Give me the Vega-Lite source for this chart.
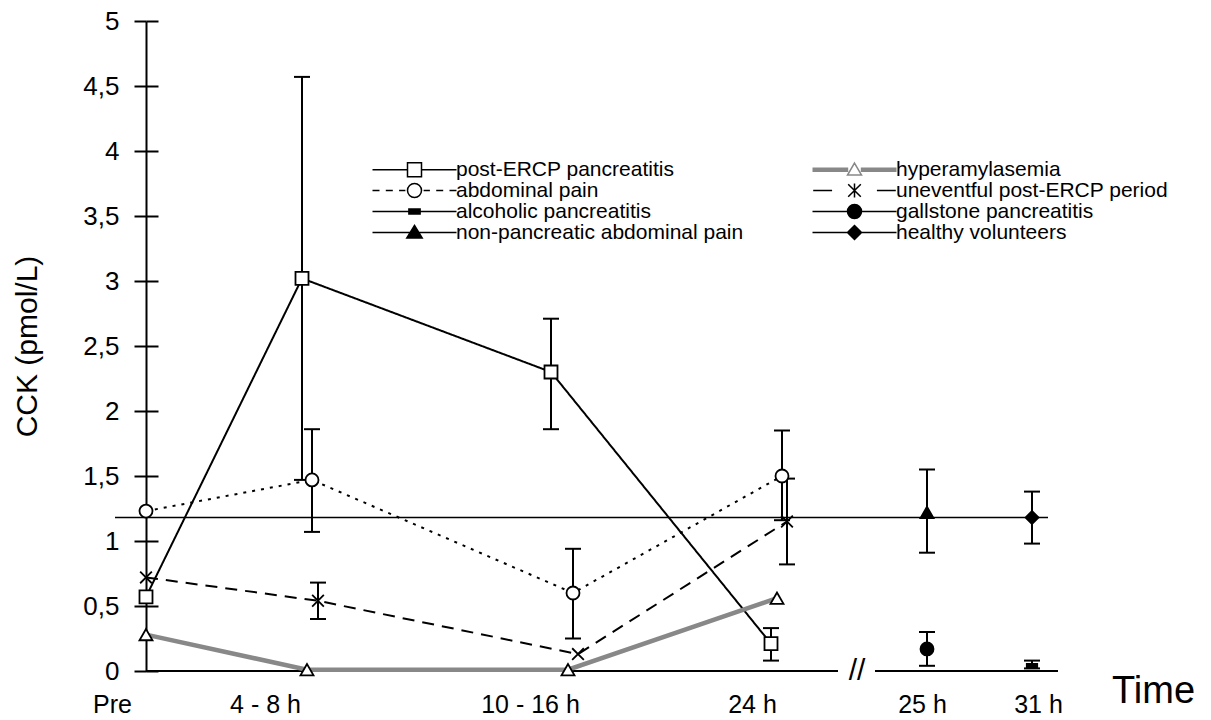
{
  "$schema": "https://vega.github.io/schema/vega-lite/v6.json",
  "width": 965,
  "height": 650,
  "autosize": {"type": "none"},
  "padding": {"left": 96, "top": 21, "right": 150, "bottom": 49},
  "background": "white",
  "config": {"view": {"stroke": null}, "font": "Liberation Sans", "axis": {"grid": false}},
  "datasets": {
    "obs": [
      {"g": "post-ERCP pancreatitis", "x": 0, "v": 0.57, "lo": null, "hi": null},
      {"g": "post-ERCP pancreatitis", "x": 1.56, "v": 3.02, "lo": 1.47, "hi": 4.57},
      {"g": "post-ERCP pancreatitis", "x": 4.05, "v": 2.3, "lo": 1.86, "hi": 2.71},
      {"g": "post-ERCP pancreatitis", "x": 6.25, "v": 0.21, "lo": 0.08, "hi": 0.33},
      {"g": "abdominal pain", "x": 0, "v": 1.23, "lo": null, "hi": null},
      {"g": "abdominal pain", "x": 1.66, "v": 1.47, "lo": 1.07, "hi": 1.86},
      {"g": "abdominal pain", "x": 4.27, "v": 0.6, "lo": 0.25, "hi": 0.94},
      {"g": "abdominal pain", "x": 6.36, "v": 1.5, "lo": 1.16, "hi": 1.85},
      {"g": "uneventful post-ERCP period", "x": 0, "v": 0.72, "lo": null, "hi": null},
      {"g": "uneventful post-ERCP period", "x": 1.72, "v": 0.54, "lo": 0.4, "hi": 0.68},
      {"g": "uneventful post-ERCP period", "x": 4.32, "v": 0.13, "lo": null, "hi": null},
      {"g": "uneventful post-ERCP period", "x": 6.41, "v": 1.15, "lo": 0.82, "hi": 1.48},
      {"g": "hyperamylasemia", "x": 0, "v": 0.28, "lo": null, "hi": null},
      {"g": "hyperamylasemia", "x": 1.61, "v": 0.01, "lo": null, "hi": null},
      {"g": "hyperamylasemia", "x": 4.22, "v": 0.01, "lo": null, "hi": null},
      {"g": "hyperamylasemia", "x": 6.31, "v": 0.56, "lo": null, "hi": null},
      {"g": "non-pancreatic abdominal pain", "x": 7.81, "v": 1.22, "lo": 0.91, "hi": 1.55},
      {"g": "gallstone pancreatitis", "x": 7.81, "v": 0.17, "lo": 0.04, "hi": 0.3},
      {"g": "healthy volunteers", "x": 8.86, "v": 1.18, "lo": 0.98, "hi": 1.38},
      {"g": "alcoholic pancreatitis", "x": 8.86, "v": 0.04, "lo": 0.02, "hi": 0.08}
    ],
    "guides": [
      {"kind": "axis", "x": 0, "x2": 6.92, "y": 0, "label": ""},
      {"kind": "axis", "x": 7.29, "x2": 9.12, "y": 0, "label": ""},
      {"kind": "ref", "x": -0.31, "x2": 9.02, "y": 1.18, "label": ""},
      {"kind": "break", "x": 7.11, "x2": 7.11, "y": 0, "label": "//"}
    ]
  },
  "layer": [
    {
      "data": {"name": "guides"},
      "transform": [{"filter": "datum.kind == 'axis'"}],
      "mark": {"type": "rule", "color": "black", "strokeWidth": 2},
      "encoding": {
        "x": {
          "field": "x", "type": "quantitative",
          "scale": {"domain": [-0.5, 9.15], "nice": false, "zero": false},
          "axis": {
            "title": "Time",
            "values": [-0.34, 1.19, 3.84, 6.06, 7.76, 8.92],
            "labelExpr": "datum.value < 0 ? 'Pre' : datum.value < 2 ? '4 - 8 h' : datum.value < 5 ? '10 - 16 h' : datum.value < 7 ? '24 h' : datum.value < 8.5 ? '25 h' : '31 h'",
            "domainColor": "transparent", "tickColor": "transparent", "tickSize": 0,
            "labelFlush": false, "labelOverlap": false,
            "labelFontSize": 25, "labelFont": "Liberation Sans", "labelColor": "black", "labelPadding": 21,
            "titleFontSize": 38, "titleFontWeight": "normal", "titleFont": "Liberation Sans", "titleColor": "black",
            "titleX": 1057, "titleY": 31, "titleAlign": "center", "titleBaseline": "alphabetic"
          }
        },
        "x2": {"field": "x2"},
        "y": {
          "field": "y", "type": "quantitative",
          "scale": {"domain": [0, 5], "nice": false},
          "axis": {
            "orient": "left", "offset": -50,
            "values": [0, 0.5, 1, 1.5, 2, 2.5, 3, 3.5, 4, 4.5, 5],
            "format": "~g",
            "labelExpr": "replace(datum.label, '.', ',')",
            "domainColor": "black", "domainWidth": 2,
            "tickColor": "black", "tickWidth": 2, "tickSize": 12,
            "labelFontSize": 26, "labelFont": "Liberation Sans", "labelColor": "black", "labelPadding": 15,
            "title": "CCK (pmol/L)", "titleFontSize": 30, "titleFontWeight": "normal", "titleFont": "Liberation Sans",
            "titleColor": "black", "titlePadding": 40
          }
        }
      }
    },
    {
      "data": {"name": "guides"},
      "transform": [{"filter": "datum.kind == 'ref'"}],
      "mark": {"type": "rule", "color": "black", "strokeWidth": 1.5},
      "encoding": {
        "x": {"field": "x", "type": "quantitative", "scale": {"domain": [-0.5, 9.15], "nice": false, "zero": false}},
        "x2": {"field": "x2"},
        "y": {"field": "y", "type": "quantitative", "scale": {"domain": [0, 5], "nice": false}, "axis": null}
      }
    },
    {
      "data": {"name": "guides"},
      "transform": [{"filter": "datum.kind == 'break'"}],
      "mark": {"type": "text", "fontSize": 30, "font": "Liberation Sans", "baseline": "middle", "align": "center", "color": "black"},
      "encoding": {
        "x": {"field": "x", "type": "quantitative", "scale": {"domain": [-0.5, 9.15], "nice": false, "zero": false}},
        "y": {"field": "y", "type": "quantitative", "scale": {"domain": [0, 5], "nice": false}, "axis": null},
        "text": {"field": "label"}
      }
    },
    {
      "data": {"name": "obs"},
      "transform": [{"filter": {"field": "lo", "valid": true}}],
      "mark": {"type": "rule", "color": "black", "strokeWidth": 2},
      "encoding": {
        "x": {"field": "x", "type": "quantitative", "scale": {"domain": [-0.5, 9.15], "nice": false, "zero": false}},
        "y": {
          "field": "lo", "type": "quantitative", "scale": {"domain": [0, 5], "nice": false},
          "axis": {
            "orient": "right", "offset": -915,
            "values": [0, 0.5, 1, 1.5, 2, 2.5, 3, 3.5, 4, 4.5, 5],
            "labels": false, "domain": false, "title": null,
            "tickColor": "black", "tickWidth": 2, "tickSize": 12
          }
        },
        "y2": {"field": "hi"}
      }
    },
    {
      "data": {"name": "obs"},
      "transform": [{"filter": {"field": "lo", "valid": true}}],
      "mark": {"type": "point", "shape": "stroke", "size": 256, "strokeWidth": 2, "color": "black", "filled": false, "opacity": 1},
      "encoding": {
        "x": {"field": "x", "type": "quantitative", "scale": {"domain": [-0.5, 9.15], "nice": false, "zero": false}},
        "y": {"field": "lo", "type": "quantitative", "scale": {"domain": [0, 5], "nice": false}, "axis": null}
      }
    },
    {
      "data": {"name": "obs"},
      "transform": [{"filter": {"field": "hi", "valid": true}}],
      "mark": {"type": "point", "shape": "stroke", "size": 256, "strokeWidth": 2, "color": "black", "filled": false, "opacity": 1},
      "encoding": {
        "x": {"field": "x", "type": "quantitative", "scale": {"domain": [-0.5, 9.15], "nice": false, "zero": false}},
        "y": {"field": "hi", "type": "quantitative", "scale": {"domain": [0, 5], "nice": false}, "axis": null}
      }
    },
    {
      "data": {"name": "obs"},
      "transform": [{"filter": {"field": "g", "oneOf": ["post-ERCP pancreatitis", "abdominal pain", "uneventful post-ERCP period"]}}],
      "mark": {"type": "line", "color": "black", "strokeWidth": 2},
      "encoding": {
        "x": {"field": "x", "type": "quantitative", "scale": {"domain": [-0.5, 9.15], "nice": false, "zero": false}},
        "y": {"field": "v", "type": "quantitative", "scale": {"domain": [0, 5], "nice": false}, "axis": null},
        "detail": {"field": "g", "type": "nominal"},
        "strokeDash": {
          "field": "g", "type": "nominal",
          "scale": {"domain": ["post-ERCP pancreatitis", "abdominal pain", "uneventful post-ERCP period"], "range": [[1, 0], [3, 6], [12, 8]]},
          "legend": null
        }
      }
    },
    {
      "data": {"name": "obs"},
      "transform": [{"filter": {"field": "g", "equal": "hyperamylasemia"}}],
      "mark": {"type": "line", "color": "#888888", "strokeWidth": 4.5},
      "encoding": {
        "x": {"field": "x", "type": "quantitative", "scale": {"domain": [-0.5, 9.15], "nice": false, "zero": false}},
        "y": {"field": "v", "type": "quantitative", "scale": {"domain": [0, 5], "nice": false}, "axis": null}
      }
    },
    {
      "data": {"name": "obs"},
      "mark": {"type": "point", "filled": true, "stroke": "black", "strokeWidth": 1.8, "size": 169, "opacity": 1},
      "encoding": {
        "x": {"field": "x", "type": "quantitative", "scale": {"domain": [-0.5, 9.15], "nice": false, "zero": false}},
        "y": {"field": "v", "type": "quantitative", "scale": {"domain": [0, 5], "nice": false}, "axis": null},
        "shape": {
          "field": "g", "type": "nominal",
          "scale": {
            "domain": ["post-ERCP pancreatitis", "hyperamylasemia", "abdominal pain", "uneventful post-ERCP period", "alcoholic pancreatitis", "gallstone pancreatitis", "non-pancreatic abdominal pain", "healthy volunteers"],
            "range": ["square", "triangle-up", "circle", "M-0.9,-0.9L0.9,0.9M-0.9,0.9L0.9,-0.9", "M-0.8,-0.3H0.8V0.3H-0.8Z", "circle", "triangle-up", "diamond"]
          },
          "legend": null
        },
        "fill": {
          "field": "g", "type": "nominal",
          "scale": {
            "domain": ["post-ERCP pancreatitis", "hyperamylasemia", "abdominal pain", "uneventful post-ERCP period", "alcoholic pancreatitis", "gallstone pancreatitis", "non-pancreatic abdominal pain", "healthy volunteers"],
            "range": ["white", "white", "white", "black", "black", "black", "black", "black"]
          },
          "legend": null
        }
      }
    },
    {
      "data": {"name": "obs"},
      "transform": [{"filter": "false"}],
      "mark": {"type": "point", "filled": true, "opacity": 1},
      "encoding": {
        "shape": {
          "field": "g", "type": "nominal",
          "scale": {
            "domain": ["post-ERCP pancreatitis", "abdominal pain", "alcoholic pancreatitis", "non-pancreatic abdominal pain", "hyperamylasemia", "uneventful post-ERCP period", "gallstone pancreatitis", "healthy volunteers"],
            "range": [
              "M-6,0H-1M1,0H6M-1,-1H1V1H-1Z",
              "M-6,0H-5M-4.1,0H-3.1M-2.2,0H-1.3M1.3,0H2.2M3.1,0H4.1M5,0H6M1,0A1,1,0,1,1,-1,0A1,1,0,1,1,1,0Z",
              "M-6,0H6M-0.8,-0.35H0.8V0.35H-0.8Z",
              "M-6,0H6M0,-1L1.1,0.8H-1.1Z",
              "M-6,-0.2H-0.9M-6,0H-0.9M-6,0.2H-0.9M0.9,-0.2H6M0.9,0H6M0.9,0.2H6M0,-0.95L1,0.75H-1Z",
              "M-5.9,0H-3.2M3.2,0H5.9M-0.9,-0.9L0.9,0.9M-0.9,0.9L0.9,-0.9M0,-1V1",
              "M-6,0H6M1,0A1,1,0,1,1,-1,0A1,1,0,1,1,1,0Z",
              "M-6,0H6M0,-1L1,0L0,1L-1,0Z"
            ]
          },
          "legend": {"title": null, "orient": "none", "legendX": 308, "legendY": 138, "columns": 2, "columnPadding": 65, "rowPadding": -2, "symbolSize": 196, "symbolStrokeWidth": 1.5, "labelFontSize": 21, "labelFont": "Liberation Sans", "labelColor": "black", "labelOffset": 31, "labelLimit": 500, "padding": 0}
        },
        "fill": {
          "field": "g", "type": "nominal",
          "scale": {
            "domain": ["post-ERCP pancreatitis", "abdominal pain", "alcoholic pancreatitis", "non-pancreatic abdominal pain", "hyperamylasemia", "uneventful post-ERCP period", "gallstone pancreatitis", "healthy volunteers"],
            "range": ["white", "white", "black", "black", "white", "black", "black", "black"]
          },
          "legend": {"title": null, "orient": "none", "legendX": 308, "legendY": 138, "columns": 2, "columnPadding": 65, "rowPadding": -2, "symbolSize": 196, "symbolStrokeWidth": 1.5, "labelFontSize": 21, "labelFont": "Liberation Sans", "labelColor": "black", "labelOffset": 31, "labelLimit": 500, "padding": 0}
        },
        "stroke": {
          "field": "g", "type": "nominal",
          "scale": {
            "domain": ["post-ERCP pancreatitis", "abdominal pain", "alcoholic pancreatitis", "non-pancreatic abdominal pain", "hyperamylasemia", "uneventful post-ERCP period", "gallstone pancreatitis", "healthy volunteers"],
            "range": ["black", "black", "black", "black", "#888888", "black", "black", "black"]
          },
          "legend": {"title": null, "orient": "none", "legendX": 308, "legendY": 138, "columns": 2, "columnPadding": 65, "rowPadding": -2, "symbolSize": 196, "symbolStrokeWidth": 1.5, "labelFontSize": 21, "labelFont": "Liberation Sans", "labelColor": "black", "labelOffset": 31, "labelLimit": 500, "padding": 0}
        }
      }
    }
  ],
  "resolve": {
    "scale": {"shape": "independent", "fill": "independent", "stroke": "independent"},
    "axis": {"y": "independent"}
  }
}
